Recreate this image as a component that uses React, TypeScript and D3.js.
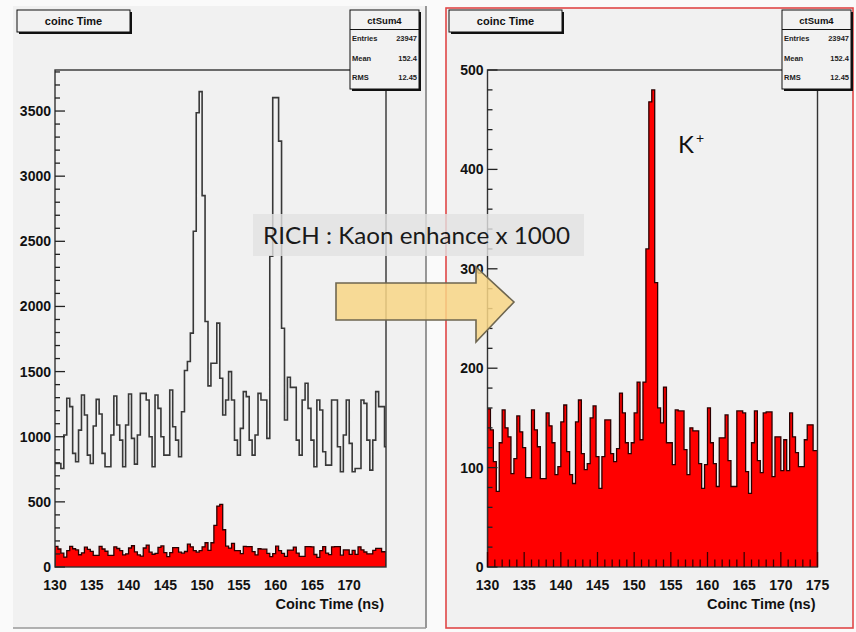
import React from 'react';
import * as d3 from 'd3';

// ---- histogram binning (ns) ----
const X_MIN = 130;
const X_MAX = 175;
const BIN_WIDTH = 0.4;

// all coincidences (black outline, left pad)
const coincAll = [
  795, 795, 756, 1013, 1295, 1231, 872, 808, 1051, 1320,
  1167, 859, 795, 1082, 1287, 1174, 872, 769, 769, 1013,
  1313, 1090, 974, 769, 1090, 1328, 987, 790, 1013, 1333,
  1333, 1282, 1000, 769, 1320, 1218, 1000, 859, 859, 1359,
  1077, 974, 846, 1192, 1508, 1577, 1795, 2577, 3487, 3649,
  2851, 1885, 1390, 1564, 1564, 1872, 1449, 1167, 1282, 1500,
  1282, 974, 859, 1064, 1346, 1308, 974, 859, 1013, 1333,
  1282, 1282, 987, 2385, 3603, 3603, 3269, 1833, 1128, 1456,
  1379, 1379, 974, 859, 1282, 1410, 1218, 974, 769, 1282,
  1205, 885, 782, 782, 1282, 1282, 923, 731, 1013, 1282,
  949, 731, 756, 756, 1282, 1256, 974, 744, 974, 1346,
  1231, 1231, 923,
];

// RICH kaon-selected coincidences (red, both pads)
const coincKaon = [
  159, 138, 106, 76, 125, 158, 140, 131, 94, 109,
  152, 136, 120, 90, 90, 158, 138, 121, 89, 89,
  155, 142, 125, 93, 101, 146, 163, 116, 93, 84,
  146, 168, 114, 98, 104, 150, 162, 111, 79, 111,
  148, 148, 114, 106, 119, 175, 155, 125, 114, 125,
  155, 186, 128, 186, 320, 468, 480, 286, 160, 145,
  181, 125, 125, 103, 158, 157, 157, 118, 93, 140,
  137, 137, 104, 79, 103, 160, 125, 104, 81, 130,
  130, 153, 107, 81, 81, 157, 157, 155, 96, 74,
  125, 157, 107, 95, 155, 156, 156, 91, 131, 131,
  97, 128, 97, 155, 131, 115, 101, 101, 128, 143,
  143, 117, 117,
];

const leftYMax = 3815;
const rightYMax = 500;
const leftYTicks = [0, 500, 1000, 1500, 2000, 2500, 3000, 3500];
const rightYTicks = [0, 100, 200, 300, 400, 500];
const leftXTicks = [130, 135, 140, 145, 150, 155, 160, 165, 170];
const rightXTicks = [130, 135, 140, 145, 150, 155, 160, 165, 170, 175];
const statRows = [
  ['Entries', '23947'],
  ['Mean', '152.4'],
  ['RMS', '12.45'],
];

const AX_FONT = "'Liberation Sans', Arial, Helvetica, sans-serif";

function stepPoints(values: number[], x: any, y: any): [number, number][] {
  const pts: [number, number][] = [];
  values.forEach((v, i) => {
    const e0 = X_MIN + i * BIN_WIDTH;
    const e1 = Math.min(X_MAX, e0 + BIN_WIDTH);
    pts.push([x(e0), y(v)], [x(e1), y(v)]);
  });
  return pts;
}

function TitleBox({ x }: { x: number }) {
  return (
    <g>
      <rect x={x + 2} y={12} width={113} height={22} fill="#111" />
      <rect x={x} y={10} width={113} height={22} fill="#f2f2f2" stroke="#111" strokeWidth={1} />
      <text x={x + 56.5} y={25} textAnchor="middle" fontFamily={AX_FONT} fontWeight="bold" fontSize={11} fill="#111">
        coinc Time
      </text>
    </g>
  );
}

function StatBox({ x }: { x: number }) {
  const w = 69;
  const h = 79;
  return (
    <g>
      <rect x={x + 2} y={12} width={w} height={h} fill="#111" />
      <rect x={x} y={10} width={w} height={h} fill="#f2f2f2" stroke="#111" strokeWidth={1} />
      <line x1={x} x2={x + w} y1={29.5} y2={29.5} stroke="#111" strokeWidth={1} />
      <text x={x + w / 2} y={24} textAnchor="middle" fontFamily={AX_FONT} fontWeight="bold" fontSize={9.5} fill="#111">
        ctSum4
      </text>
      {statRows.map((r, i) => (
        <g key={r[0]}>
          <text x={x + 2} y={41 + i * 19.5} fontFamily={AX_FONT} fontWeight="bold" fontSize={7.5} fill="#222">
            {r[0]}
          </text>
          <text x={x + w - 2} y={41 + i * 19.5} textAnchor="end" fontFamily={AX_FONT} fontWeight="bold" fontSize={7.5} fill="#222">
            {r[1]}
          </text>
        </g>
      ))}
    </g>
  );
}

function Pad({
  frame,
  yMax,
  yTicks,
  yMinorStep,
  xTicks,
  showXTicks,
  showAll,
  clipId,
}: any) {
  const x = d3.scaleLinear().domain([X_MIN, X_MAX]).range([frame.x0, frame.x1]);
  const y = d3.scaleLinear().domain([0, yMax]).range([frame.y1, frame.y0]);
  const line = d3.line();
  const area = d3
    .area<[number, number]>()
    .x((d) => d[0])
    .y0(y(0))
    .y1((d) => d[1]);

  const redPts = stepPoints(coincKaon, x, y);
  const redOutline: [number, number][] = [[redPts[0][0], y(0)], ...redPts, [redPts[redPts.length - 1][0], y(0)]];
  const blackPts = showAll ? stepPoints(coincAll, x, y) : [];

  const yMinor = d3.range(0, yMax + 0.001, yMinorStep);
  const xMinor = d3.range(X_MIN, X_MAX + 0.001, 1);

  return (
    <g>
      <defs>
        <clipPath id={clipId}>
          <rect x={frame.x0} y={frame.y0} width={frame.x1 - frame.x0} height={frame.y1 - frame.y0} />
        </clipPath>
      </defs>
      <g clipPath={`url(#${clipId})`}>
        <path d={area(redPts) || ''} fill="#ff0000" />
        <path d={line(redOutline) || ''} fill="none" stroke="#2a0000" strokeWidth={1.3} />
        {showAll && <path d={line(blackPts) || ''} fill="none" stroke="#383838" strokeWidth={1.6} />}
      </g>
      {/* frame */}
      <rect
        x={frame.x0}
        y={frame.y0}
        width={frame.x1 - frame.x0}
        height={frame.y1 - frame.y0}
        fill="none"
        stroke="#333"
        strokeWidth={1.4}
      />
      {/* y ticks */}
      {yMinor.map((v: number) => {
        const major = yTicks.includes(Math.round(v));
        return (
          <line
            key={'ym' + v}
            x1={frame.x0}
            x2={frame.x0 + (major ? 10 : 5)}
            y1={y(v)}
            y2={y(v)}
            stroke="#222"
            strokeWidth={1.3}
          />
        );
      })}
      {yTicks.map((v: number) => (
        <text
          key={'yl' + v}
          x={frame.x0 - 4}
          y={y(v) + 5}
          textAnchor="end"
          fontFamily={AX_FONT}
          fontWeight="bold"
          fontSize={14}
          fill="#111"
        >
          {v}
        </text>
      ))}
      {/* x ticks */}
      {showXTicks &&
        xMinor.map((v: number) => {
          const major = Math.round(v) % 5 === 0;
          return (
            <line
              key={'xm' + v}
              x1={x(v)}
              x2={x(v)}
              y1={frame.y1}
              y2={frame.y1 - (major ? 15 : 7.5)}
              stroke="#3a0000"
              strokeWidth={1.3}
            />
          );
        })}
      {xTicks.map((v: number) => (
        <text
          key={'xl' + v}
          x={x(v)}
          y={590}
          textAnchor="middle"
          fontFamily={AX_FONT}
          fontWeight="bold"
          fontSize={14}
          fill="#111"
        >
          {v}
        </text>
      ))}
      <text
        x={frame.x1 - 2}
        y={609}
        textAnchor="end"
        fontFamily={AX_FONT}
        fontWeight="bold"
        fontSize={14.5}
        fill="#111"
      >
        Coinc Time (ns)
      </text>
    </g>
  );
}

export default function App() {
  const leftFrame = { x0: 55, x1: 386, y0: 70, y1: 567 };
  const rightFrame = { x0: 487.5, x1: 817.5, y0: 70, y1: 567 };

  const arrow = [
    [336, 283],
    [476, 283],
    [476, 267],
    [514, 302],
    [476, 342],
    [476, 320],
    [336, 320],
  ] as [number, number][];

  return (
    <svg
      width={856}
      height={632}
      style={{ position: 'absolute', left: 0, top: 0, background: '#ffffff' }}
    >
      <rect x={0} y={0} width={856} height={632} fill="#fafafa" />
      {/* left pad */}
      <rect x={13} y={6} width={413} height={622} fill="#f1f1f1" />
      <line x1={426} x2={426} y1={6} y2={628} stroke="#777" strokeWidth={1.5} />
      <line x1={13} x2={426} y1={628} y2={628} stroke="#999" strokeWidth={1.5} />
      {/* right pad */}
      <rect x={446} y={8} width={407} height={620} fill="#f1f1f1" stroke="#e04848" strokeWidth={1.6} />

      <Pad
        frame={leftFrame}
        yMax={leftYMax}
        yTicks={leftYTicks}
        yMinorStep={100}
        xTicks={leftXTicks}
        showXTicks={false}
        showAll={true}
        clipId="clipL"
      />
      <Pad
        frame={rightFrame}
        yMax={rightYMax}
        yTicks={rightYTicks}
        yMinorStep={20}
        xTicks={rightXTicks}
        showXTicks={true}
        showAll={false}
        clipId="clipR"
      />

      <TitleBox x={17} />
      <TitleBox x={449} />
      <StatBox x={350} />
      <StatBox x={782} />

      {/* K+ label */}
      <text x={678} y={153} fontFamily="Lato, 'Open Sans', sans-serif" fontSize={24} fill="#111">
        K
        <tspan fontSize={14} dx={2} dy={-10}>+</tspan>
      </text>

      {/* annotation box */}
      <rect x={253} y={214} width={331} height={42} fill="#e2e2e2" fillOpacity={0.8} />
      <text
        x={263}
        y={244}
        fontFamily="Lato, 'Open Sans', sans-serif"
        fontSize={23}
        fill="#1a1a1a"
        textLength={307}
        lengthAdjust="spacingAndGlyphs"
      >
        RICH : Kaon enhance x 1000
      </text>

      {/* arrow */}
      <path
        d={(d3.line()(arrow) || '') + 'Z'}
        fill="#f8d686"
        fillOpacity={0.85}
        stroke="#6e6650"
        strokeWidth={1.6}
      />
    </svg>
  );
}
